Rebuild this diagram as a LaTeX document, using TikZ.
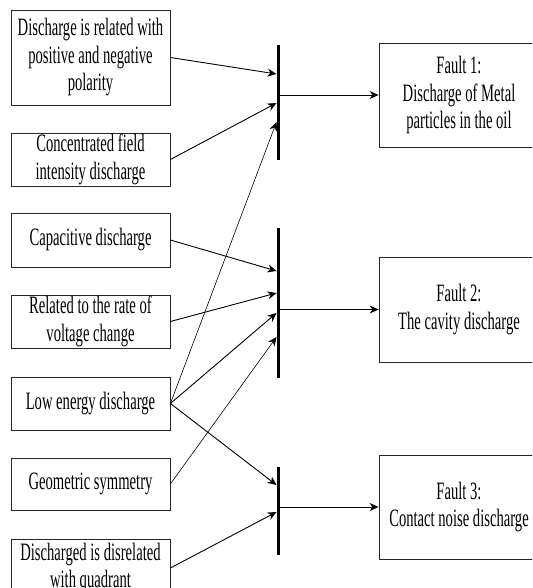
\documentclass[tikz,border=0pt]{standalone}
\usepackage{fontspec}
\setmainfont[FakeStretch=0.585]{Liberation Serif}
\usetikzlibrary{arrows.meta}
\begin{document}
\begin{tikzpicture}[x=1pt,y=-1pt,
  every node/.style={font=\fontsize{25}{27.5}\selectfont},
  cause/.style={draw=black!85,line width=0.8pt,minimum width=159pt,inner sep=0pt,align=center},
  fault/.style={draw=black!85,line width=0.8pt,minimum width=160pt,minimum height=104pt,inner sep=0pt,align=center},
  bar/.style={fill=black,minimum width=3pt,inner sep=0pt},
  arr/.style={line width=0.9pt,-{Stealth[length=9pt,width=8pt]}},
  thinarr/.style={line width=0.6pt,-{Stealth[length=9pt,width=8pt]}}]
\useasboundingbox (0,0) rectangle (532,588);
\clip (0,0) rectangle (532,588);

% cause boxes
\node[cause,minimum height=95pt] (B1) at (90.5,57.5) {Discharge is related with\\positive and negative\\polarity};
\node[cause,minimum height=53pt] (B2) at (90.5,159.5) {Concentrated field\\intensity discharge};
\node[cause,minimum height=54pt] (B3) at (90.5,240) {Capacitive discharge};
\node[cause,minimum height=53pt] (B4) at (90.5,321.5) {Related to the rate of\\voltage change};
\node[cause,minimum height=53pt] (B5) at (90.5,403.5) {Low energy discharge};
\node[cause,minimum height=52pt] (B6) at (90.5,484) {Geometric symmetry};
\node[cause,minimum height=58pt] (B7) at (90.5,568) {Discharged is disrelated\\with quadrant};

% collecting bars
\node[bar,minimum height=115pt] (bar1) at (278,102.5) {};
\node[bar,minimum height=150pt] (bar2) at (278,303) {};
\node[bar,minimum height=88pt] (bar3) at (278,511) {};

% fault boxes
\node[fault] (F1) at (459,95) {Fault 1:\\Discharge of Metal\\particles in the oil};
\node[fault,minimum height=105pt] (F2) at (459,309.5) {Fault 2:\\The cavity discharge};
\node[fault] (F3) at (459,507) {Fault 3:\\Contact noise discharge};

% arrow end points on the bars
\coordinate (p11) at (276.5,74);
\coordinate (p12) at (276.5,103);
\coordinate (p13) at (276.5,122);
\coordinate (p21) at (276.5,271);
\coordinate (p22) at (276.5,293);
\coordinate (p23) at (276.5,313);
\coordinate (p24) at (276.5,337);
\coordinate (p31) at (276.5,485);
\coordinate (p32) at (276.5,512);

\draw[arr] (B1.east) -- (p11);
\draw[arr] (B2.east) -- (p12);
\draw[thinarr] (B5.east) -- (p13);
\draw[arr] (B3.east) -- (p21);
\draw[arr] (B4.east) -- (p22);
\draw[arr] (B5.east) -- (p23);
\draw[thinarr] (B6.east) -- (p24);
\draw[arr] (B5.east) -- (p31);
\draw[arr] (B7.east) -- (p32);

% bars to faults
\draw[arr] (bar1.east |- F1.west) -- (F1.west);
\draw[arr] (bar2.east |- F2.west) -- (F2.west);
\draw[arr] (bar3.east |- F3.west) -- (F3.west);
\end{tikzpicture}
\end{document}
